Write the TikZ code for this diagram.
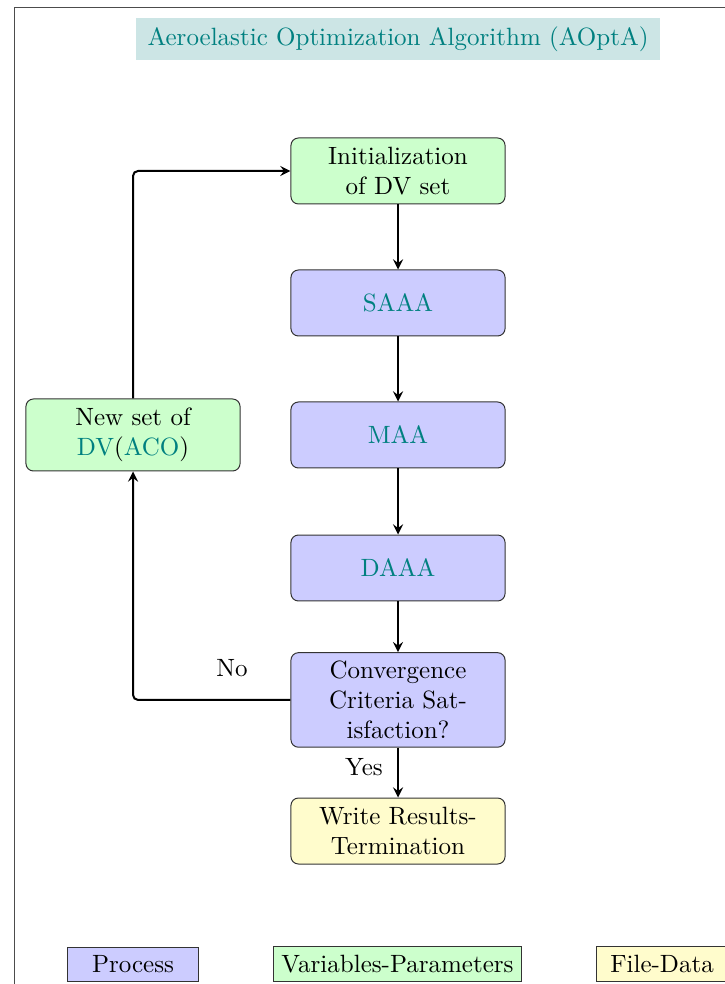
\documentclass[tikz,border=0pt]{standalone}
\usetikzlibrary{arrows}

\begin{document}
\begin{tikzpicture}
\tikzstyle{every node}=[font=\normalsize]
\tikzstyle{processbox}=[rectangle,rounded corners=3pt,draw=black!80,fill=blue!20,text width=79pt,align=center,minimum height=26.4pt,inner sep=3.33pt]
\tikzstyle{varbox}=[processbox,fill=green!20]
\tikzstyle{filebox}=[processbox,fill=yellow!20]
\tikzstyle{legendbox}=[rectangle,draw=black!80,minimum width=52.8pt,minimum height=13.6pt,inner sep=3.33pt]
\tikzstyle{link}=[thick,->,>=stealth]
\useasboundingbox (0,0) rectangle (10.193,-13.835);
% frame
\draw[black!70] (0.197,-0.112) rectangle (11,-14.5);
% title
\node[fill=teal!20,text=teal,minimum width=209.6pt,minimum height=16.8pt] (title) at (5.596,-0.548) {Aeroelastic Optimization Algorithm (AOptA)};
% flow
\node[varbox] (init) at (5.596,-2.404) {Initialization of DV set};
\node[processbox] (saaa) at (5.596,-4.260) {\textcolor{teal}{SAAA}};
\node[processbox] (maa) at (5.596,-6.116) {\textcolor{teal}{MAA}};
\node[processbox] (daaa) at (5.596,-7.986) {\textcolor{teal}{DAAA}};
\node[processbox] (conv) at (5.596,-9.841) {Convergence\\Criteria Sat-\\isfaction?};
\node[filebox] (write) at (5.596,-11.684) {Write Results-\\Termination};
\node[varbox,minimum height=28.8pt] (newdv) at (1.870,-6.116) {New set of\\\textcolor{teal}{DV}(\textcolor{teal}{ACO})};
\draw[link] (init) -- (saaa);
\draw[link] (saaa) -- (maa);
\draw[link] (maa) -- (daaa);
\draw[link] (daaa) -- (conv);
\draw[link] (conv) -- (write);
\draw[link,rounded corners=2pt] (conv.west) -| (newdv.south);
\draw[link,rounded corners=2pt] (newdv.north) |- (init.west);
\node (no) at (3.262,-9.392) {No};
\node (yes) at (5.118,-10.784) {Yes};
% legend
\node[legendbox,fill=blue!20] (lproc) at (1.870,-13.554) {Process};
\node[legendbox,fill=green!20] (lvar) at (5.589,-13.554) {Variables-Parameters};
\node[legendbox,fill=yellow!20] (lfile) at (9.308,-13.554) {File-Data};
\end{tikzpicture}
\end{document}
